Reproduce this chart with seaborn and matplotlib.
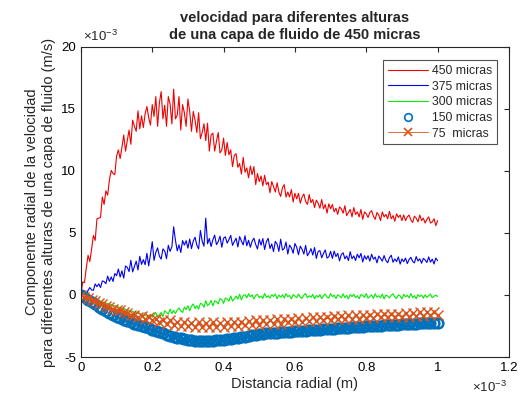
import numpy as np
import matplotlib
matplotlib.use("Agg")
import matplotlib.pyplot as plt
from matplotlib.ticker import FuncFormatter
import seaborn as sns

sns.set_style("white")
plt.rcParams["font.family"] = ["Liberation Sans", "DejaVu Sans"]
plt.rcParams["mathtext.default"] = "regular"

# radial distance in units of 1e-3 m, velocity in units of 1e-3 m/s
x_fine = np.round(np.arange(201) * 0.005, 3)   # noisy line series
x = np.round(np.arange(101) * 0.01, 2)         # marker series

v450 = [0, 1.05, 1.0, 2.15, 3.2, 2.7, 3.7, 4.8, 4.4, 6.15, 6.2, 6.25, 7.9, 7.3, 8.4, 8.05, 9.3, 10.05, 9.8, 9.7, 11.2,
        11.7, 11.0, 11.9, 12.9, 11.6, 12.45, 13.3, 12.15, 14.1, 13.6, 13.2, 14.85, 13.4, 14.45, 13.5, 14.6, 15.2, 14.3, 13.7, 15.35,
        14.4, 16.0, 13.6, 15.5, 16.4, 14.2, 15.3, 13.6, 16.0, 15.4, 13.8, 16.6, 14.2, 14.5, 16.0, 13.3, 15.35, 14.7, 13.6, 15.8,
        14.8, 13.2, 14.8, 14.1, 13.1, 14.7, 12.6, 13.1, 13.8, 12.45, 13.85, 11.6, 12.9, 13.05, 11.6, 12.4, 13.1, 11.45, 11.7, 12.65,
        11.25, 12.3, 11.3, 11.7, 10.35, 11.25, 11.4, 10.3, 10.6, 9.75, 11.1, 9.9, 10.25, 9.45, 10.4, 9.7, 10.35, 8.9, 9.8, 9.15,
        9.6, 8.8, 9.65, 8.9, 9.1, 8.25, 9.15, 8.75, 8.3, 9.05, 8.3, 7.95, 8.65, 8.9, 7.9, 8.3, 7.9, 8.5, 7.5, 8.2,
        7.75, 8.2, 7.4, 7.9, 8.15, 7.55, 7.3, 8.1, 7.45, 7.7, 7.05, 7.65, 7.4, 7.0, 7.7, 6.95, 7.3, 6.6, 7.35, 6.95,
        7.3, 6.7, 7.0, 6.5, 7.1, 6.95, 6.6, 7.2, 6.4, 6.65, 6.9, 6.3, 7.05, 6.5, 6.7, 6.3, 6.9, 6.1, 6.7, 6.55,
        6.25, 6.65, 6.8, 6.35, 6.1, 6.65, 6.45, 6.0, 6.7, 6.3, 6.5, 6.15, 6.75, 6.15, 6.4, 5.95, 6.55, 6.25, 6.45, 6.0,
        6.45, 6.0, 6.3, 6.45, 6.05, 5.85, 6.35, 6.2, 5.9, 6.45, 6.0, 6.2, 5.8, 6.1, 6.3, 5.8, 5.9, 6.15, 5.6, 6.0]

v375 = [0, -0.02, 0.31, 0.02, 0.37, 0.6, 0.4, 0.38, 0.89, 0.67, 0.9, 0.6, 1.14, 1.08, 0.91, 1.52, 1.1, 1.46, 1.09, 1.73, 1.56,
        2.1, 1.45, 1.95, 1.36, 2.34, 2.23, 1.89, 2.8, 1.86, 2.29, 2.73, 2.02, 3.12, 2.47, 2.85, 2.44, 3.36, 2.35, 3.27, 4.3,
        2.79, 3.44, 3.8, 3.13, 2.89, 3.72, 3.54, 2.93, 4.01, 3.52, 3.88, 5.5, 4.41, 3.56, 4.04, 3.43, 4.39, 4.02, 4.38, 3.78,
        4.51, 3.74, 4.35, 4.66, 4.01, 3.72, 5.2, 4.34, 3.93, 6.2, 4.13, 4.56, 3.91, 4.46, 4.83, 4.06, 4.31, 4.74, 3.85, 4.58,
        4.69, 4.18, 4.47, 4.81, 4.0, 4.29, 4.58, 3.87, 4.71, 4.35, 4.04, 4.78, 3.97, 4.41, 3.85, 4.34, 4.58, 4.07, 3.71, 4.5,
        4.02, 4.55, 3.67, 4.3, 4.57, 3.75, 4.12, 3.5, 4.32, 4.1, 3.52, 4.5, 3.62, 3.75, 4.27, 3.3, 4.02, 3.8, 3.37, 4.15,
        3.85, 3.24, 3.94, 3.69, 3.3, 4.0, 3.16, 3.41, 3.74, 3.22, 3.83, 2.95, 3.51, 3.58, 3.0, 3.35, 3.63, 2.98, 3.08, 3.52,
        2.95, 3.54, 3.09, 3.36, 2.75, 3.26, 3.41, 2.92, 3.15, 2.78, 3.49, 2.92, 3.15, 2.78, 3.29, 3.0, 3.35, 2.66, 3.17, 2.88,
        3.17, 2.73, 3.29, 2.89, 3.06, 2.59, 3.14, 2.96, 2.73, 3.18, 2.79, 2.6, 3.01, 3.21, 2.64, 2.91, 2.69, 3.07, 2.49, 2.91,
        2.68, 2.98, 2.53, 2.86, 3.04, 2.71, 2.59, 3.1, 2.74, 2.92, 2.56, 2.95, 2.83, 2.62, 3.07, 2.65, 2.89, 2.5, 2.98, 2.77]

v300 = [0, -0.05, -0.09, -0.14, -0.18, -0.23, -0.28, -0.32, -0.37, -0.41,
        -0.46, -0.51, -0.55, -0.6, -0.64, -0.69, -0.74, -0.78, -0.83, -0.87,
        -0.92, -0.97, -1.01, -1.06, -1.1, -1.15, -1.2, -1.24, -1.29, -1.33,
        -1.38, -1.43, -1.47, -1.52, -1.56, -1.61, -1.66, -1.7, -1.75,
        -1.57, -1.79, -1.61, -1.4, -1.78, -1.6, -1.41, -1.73, -1.27, -1.41,
        -1.54, -1.13, -1.5, -1.24, -1.49, -1.21, -1.04, -1.27, -1.41, -0.98,
        -1.18, -0.87, -1.27, -0.9, -0.72, -1.09, -0.86, -1.13, -0.67, -0.74,
        -0.99, -0.46, -0.85, -0.74, -0.43, -0.88, -0.47, -0.54, -0.72, -0.28,
        -0.38, -0.68, -0.24, -0.33, -0.5, -0.07, -0.49, -0.31, -0.08, -0.33,
        0.06, -0.39, -0.04, 0.03,
        -0.23, 0.1, -0.14, 0.01, -0.32, -0.03, 0.05, -0.21, -0.08, -0.28,
        0.12, -0.19, -0.06, -0.25, 0.03, -0.12, 0.08, -0.3, -0.01, -0.17,
        0.01, -0.25, 0.1, -0.14, -0.03, -0.32, 0.03, -0.08, -0.21, 0.08,
        -0.17, -0.28, -0.01, 0.12, -0.23, -0.06, -0.19, 0.05, -0.3, -0.03,
        -0.19, 0.03, -0.3, -0.06, 0.08, -0.17, -0.25, 0.12, -0.14, -0.01,
        -0.28, 0.01, -0.08, -0.23, 0.1, -0.21, -0.03, -0.32, 0.03, -0.12,
        0.05, -0.21, -0.06, -0.3, 0.03, -0.03, -0.19, 0.12, -0.25, -0.12,
        0.01, -0.28, 0.1, -0.17, -0.06, -0.23, 0.08, -0.32, -0.01, -0.08,
        -0.23, -0.01, 0.1, -0.17, -0.28, 0.01, -0.08, -0.32, 0.05, -0.14,
        -0.03, -0.23, 0.12, -0.21, -0.06, -0.3, 0.03, -0.12, -0.01, -0.25,
        0.02, -0.2, -0.05, 0.08, -0.22, -0.1, 0.0, -0.12]

v150 = [0, -0.19, -0.38, -0.57, -0.76, -0.95, -1.12, -1.28, -1.44, -1.6,
        -1.75, -1.87, -1.98, -2.09, -2.2, -2.3, -2.4, -2.5, -2.6, -2.7,
        -2.8, -2.9, -3.0, -3.1, -3.2, -3.28, -3.36, -3.43, -3.5, -3.55,
        -3.6, -3.64, -3.67, -3.69, -3.7, -3.7, -3.69, -3.67, -3.65, -3.62,
        -3.59, -3.55, -3.51, -3.47, -3.43, -3.39, -3.35, -3.3, -3.25, -3.2,
        -3.16, -3.13, -3.1, -3.07, -3.05, -3.03, -3.01, -2.99, -2.97, -2.95,
        -2.93, -2.91, -2.89, -2.87, -2.85, -2.83, -2.81, -2.79, -2.77, -2.75,
        -2.73, -2.71, -2.69, -2.67, -2.65, -2.63, -2.61, -2.59, -2.57, -2.55,
        -2.53, -2.51, -2.5, -2.48, -2.46, -2.45, -2.43, -2.41, -2.4, -2.38,
        -2.37, -2.35, -2.34, -2.32, -2.31, -2.29, -2.28, -2.26, -2.25, -2.23,
        -2.22]

v75 = [0, -0.15, -0.25, -0.4, -0.5, -0.65, -0.75, -0.85, -1.0, -1.1,
       -1.2, -1.25, -1.4, -1.45, -1.6, -1.6, -1.75, -1.7, -1.9, -1.8,
       -2.0, -1.9, -2.15, -2.0, -2.3, -2.05, -2.4, -2.15, -2.5, -2.2,
       -2.5, -2.25, -2.55, -2.2, -2.6, -2.25, -2.55, -2.2, -2.6, -2.25,
       -2.55, -2.2, -2.5, -2.15, -2.5, -2.15, -2.45, -2.1, -2.4, -2.05,
       -2.4, -2.05, -2.35, -2.0, -2.3, -1.95, -2.3, -1.95, -2.2, -1.9,
       -2.2, -1.85, -2.15, -1.85, -2.1, -1.8, -2.1, -1.75, -2.0, -1.75,
       -2.0, -1.7, -1.95, -1.7, -1.95, -1.65, -1.9, -1.65, -1.9, -1.6,
       -1.85, -1.6, -1.85, -1.55, -1.8, -1.55, -1.8, -1.5, -1.75, -1.5,
       -1.75, -1.45, -1.75, -1.45, -1.7, -1.4, -1.7, -1.4, -1.65, -1.4,
       -1.6]

xticks = [0, 0.2, 0.4, 0.6, 0.8, 1.0, 1.2]
yticks = [-5, 0, 5, 10, 15, 20]

fig, ax = plt.subplots(figsize=(5.22, 3.98), dpi=100)
fig.subplots_adjust(left=0.155, right=0.975, top=0.882, bottom=0.103)

rf = x_fine * 1e-3
r = x * 1e-3
sns.lineplot(x=rf, y=np.array(v450) * 1e-3, color="#F00000", lw=0.8,
             label="450 micras", ax=ax)
sns.lineplot(x=rf, y=np.array(v375) * 1e-3, color="#0000F0", lw=0.8,
             label="375 micras", ax=ax)
sns.lineplot(x=rf, y=np.array(v300) * 1e-3, color="#00EE00", lw=0.8,
             label="300 micras", ax=ax)
sns.lineplot(x=r, y=np.array(v150) * 1e-3, color="#0072BD", linestyle="",
             marker="o", markersize=7, markerfacecolor="none",
             markeredgecolor="#0072BD", markeredgewidth=1.8,
             label="150 micras", ax=ax)
sns.lineplot(x=r, y=np.array(v75) * 1e-3, color="#D95319", lw=0.6,
             marker="x", markersize=6.5, markeredgecolor="#D95319",
             markeredgewidth=1.0, label="75  micras", ax=ax)

ax.set_xlim(0, 1.2e-3)
ax.set_ylim(-5e-3, 20e-3)
ax.set_xticks(np.array(xticks) * 1e-3)
ax.set_yticks(np.array(yticks) * 1e-3)
fmt = FuncFormatter(lambda v, p: f"{v * 1e3:g}")
ax.xaxis.set_major_formatter(fmt)
ax.yaxis.set_major_formatter(fmt)
ax.tick_params(direction="in", length=3.5, width=0.8, labelsize=9.5,
               top=True, right=True, colors="#262626", labelcolor="black")
for s in ax.spines.values():
    s.set_color("#262626")
    s.set_linewidth(0.8)

ax.text(0.005, 1.008, r"×10$^{-3}$", transform=ax.transAxes,
        ha="left", va="bottom", fontsize=9.5)
ax.text(0.995, -0.075, r"×10$^{-3}$", transform=ax.transAxes,
        ha="right", va="top", fontsize=9.5)

ax.set_xlabel("Distancia radial (m)", fontsize=10.5, labelpad=2)
ax.set_ylabel("Componente radial de la velocidad\n"
              "para diferentes alturas de una capa de fluido (m/s)",
              fontsize=10.5, labelpad=4)
ax.set_title("velocidad para diferentes alturas\n"
             "de una capa de fluido de 450 micras",
             fontsize=10.5, fontweight="bold", pad=6)

leg = ax.legend(loc="upper right", bbox_to_anchor=(0.972, 0.958),
                borderaxespad=0, fontsize=8.8, handlelength=3.3,
                handletextpad=0.3, labelspacing=0.3, frameon=True,
                fancybox=False, borderpad=0.4)
leg.get_frame().set_edgecolor("#262626")
leg.get_frame().set_linewidth(0.8)
for h in leg.legend_handles:
    h.set_markersize(5.5)
    h.set_markeredgewidth(1.2)

fig.savefig("out.png", dpi=100)
